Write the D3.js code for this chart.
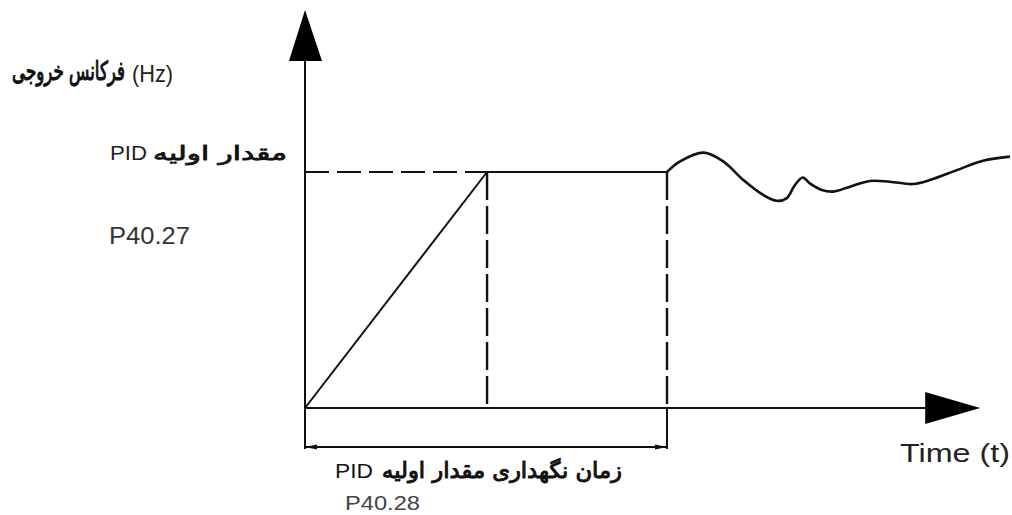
<!DOCTYPE html>
<html>
<head>
<meta charset="utf-8">
<script src="https://cdn.jsdelivr.net/npm/d3@7"></script>
<style>
  html, body { margin: 0; padding: 0; background: #fff; }
  svg { display: block; }
</style>
</head>
<body>
<svg id="chart" width="1012" height="515"></svg>
<script>
// ---- data ----
const timeMarks = [0, 25.75, 51.2];          // start, ramp end, hold end (time units)
const pidInitial = 100;                       // PID initial value (relative units)
const rampT = [0, 25.75];
const rampV = [0, 100];
const responseT = [51.2, 53.0, 56.4, 59.2, 62.0, 64.8, 66.7, 68.1, 69.3, 70.4, 71.4, 73.1, 74.7, 77.1, 79.9, 82.7, 86.0, 88.4, 92.2, 95.9, 99.7];
const responseV = [100, 104.4, 108.2, 104.4, 96.6, 90.3, 87.8, 88.8, 94.5, 97.7, 95.2, 92.4, 91.7, 93.8, 96.2, 95.9, 94.9, 96.6, 100.8, 104.8, 106.5];
const axisEnds = { tMax: 95.5, vMax: 168.6 };
const dimLevel = -16.5;
const yLabelFa = "فرکانس خروجی";
const yUnit = "(Hz)";
const initLabelFa = "مقدار اولیه";
const initLabelEn = "PID";
const initParam = "P40.27";
const holdLabelFa = "زمان نگهداری مقدار اولیه";
const holdLabelEn = "PID";
const holdParam = "P40.28";
const xLabel = "Time (t)";

// ---- scales ----
const x = d3.scaleLinear().domain([0, 100]).range([305, 1012]);
const y = d3.scaleLinear().domain([0, 100]).range([408, 172]);

const svg = d3.select("#chart");
const ink = "#111";
const g = svg.append("g");

// axes lines
g.append("line").attr("x1", x(0)).attr("y1", y(0)).attr("x2", x(0)).attr("y2", y(axisEnds.vMax) + 40)
  .attr("stroke", ink).attr("stroke-width", 2);
g.append("line").attr("x1", x(0)).attr("y1", y(0)).attr("x2", x(axisEnds.tMax) - 40).attr("y2", y(0))
  .attr("stroke", ink).attr("stroke-width", 2);

// arrowheads
const yTip = [x(0), y(axisEnds.vMax)];
g.append("path").attr("d", `M${yTip[0]},${yTip[1]} L${yTip[0] + 17},${yTip[1] + 51} L${yTip[0] - 16},${yTip[1] + 51} Z`).attr("fill", "#000");
const xTip = [x(axisEnds.tMax), y(0)];
g.append("path").attr("d", `M${xTip[0]},${xTip[1]} L${xTip[0] - 55},${xTip[1] - 16} L${xTip[0] - 55},${xTip[1] + 16} Z`).attr("fill", "#000");

// dashed horizontal from axis to ramp end
g.append("line").attr("x1", x(0)).attr("y1", y(pidInitial)).attr("x2", x(timeMarks[1])).attr("y2", y(pidInitial))
  .attr("stroke", ink).attr("stroke-width", 2.2).attr("stroke-dasharray", "24,8");
// solid horizontal hold
g.append("line").attr("x1", x(timeMarks[1])).attr("y1", y(pidInitial)).attr("x2", x(timeMarks[2])).attr("y2", y(pidInitial))
  .attr("stroke", ink).attr("stroke-width", 2.2);
// dashed verticals
[timeMarks[1], timeMarks[2]].forEach(t => {
  g.append("line").attr("x1", x(t)).attr("y1", y(pidInitial)).attr("x2", x(t)).attr("y2", y(0))
    .attr("stroke", ink).attr("stroke-width", 2.4).attr("stroke-dasharray", "28,6");
});
// extension lines down to dimension line
[timeMarks[0], timeMarks[2]].forEach(t => {
  g.append("line").attr("x1", x(t)).attr("y1", y(0)).attr("x2", x(t)).attr("y2", y(dimLevel) + 2)
    .attr("stroke", ink).attr("stroke-width", 2);
});
// dimension line
g.append("line").attr("x1", x(timeMarks[0])).attr("y1", y(dimLevel)).attr("x2", x(timeMarks[2])).attr("y2", y(dimLevel))
  .attr("stroke", ink).attr("stroke-width", 2);
const dy = y(dimLevel);
g.append("path").attr("d", `M${x(timeMarks[0])},${dy} L${x(timeMarks[0]) + 12},${dy - 2.5} L${x(timeMarks[0]) + 12},${dy + 2.5} Z`).attr("fill", ink);
g.append("path").attr("d", `M${x(timeMarks[2])},${dy} L${x(timeMarks[2]) - 12},${dy - 2.5} L${x(timeMarks[2]) - 12},${dy + 2.5} Z`).attr("fill", ink);

// ramp
g.append("path").datum(rampT.map((t, i) => [t, rampV[i]]))
  .attr("d", d3.line().x(d => x(d[0])).y(d => y(d[1])))
  .attr("fill", "none").attr("stroke", ink).attr("stroke-width", 2);

// response curve
g.append("path").datum(responseT.map((t, i) => [t, responseV[i]]))
  .attr("d", d3.line().curve(d3.curveCatmullRom.alpha(0.5)).x(d => x(d[0])).y(d => y(d[1])))
  .attr("fill", "none").attr("stroke", ink).attr("stroke-width", 2.6).attr("stroke-linejoin", "round");

// ---- texts ----
const latin = "'Liberation Sans', Arial, sans-serif";
const arabic = "'DejaVu Sans', sans-serif";
// stretch a text horizontally (about its anchor) so that it spans the target width
function fitText(sel, target) {
  const w = sel.node().getBBox().width;
  if (!w) return;
  const k = target / w;
  const ax = +sel.attr("x");
  sel.attr("transform", `translate(${ax},0) scale(${k.toFixed(4)},1) translate(${-ax},0)`);
}
function txt(str, px, py, anchor, family, size, color, strokeW) {
  const t = svg.append("text").attr("x", px).attr("y", py).attr("text-anchor", anchor)
    .attr("font-family", family).attr("font-size", size).attr("font-weight", "normal")
    .attr("fill", color || "#111").text(str);
  if (strokeW) t.attr("stroke", color || "#111").attr("stroke-width", strokeW).attr("stroke-linejoin", "round");
  return t;
}
fitText(txt(yLabelFa, 125, 80, "end", arabic, 26, "#111", 1.2), 113);
fitText(txt(yUnit, 132, 82, "start", latin, 23, "#222"), 41);
fitText(txt(initLabelEn, 110, 160, "start", latin, 20, "#222"), 37);
fitText(txt(initLabelFa, 287, 160, "end", arabic, 20, "#111", 0.8), 134);
fitText(txt(initParam, 109, 244, "start", latin, 23, "#333"), 81);
fitText(txt(holdLabelEn, 335, 478, "start", latin, 21, "#111"), 38);
fitText(txt(holdLabelFa, 622, 478, "end", arabic, 22, "#111", 1.0), 240);
fitText(txt(holdParam, 345, 510, "start", latin, 21, "#444"), 75);
fitText(txt(xLabel, 900, 462, "start", latin, 25, "#222"), 110);
</script>
</body>
</html>
